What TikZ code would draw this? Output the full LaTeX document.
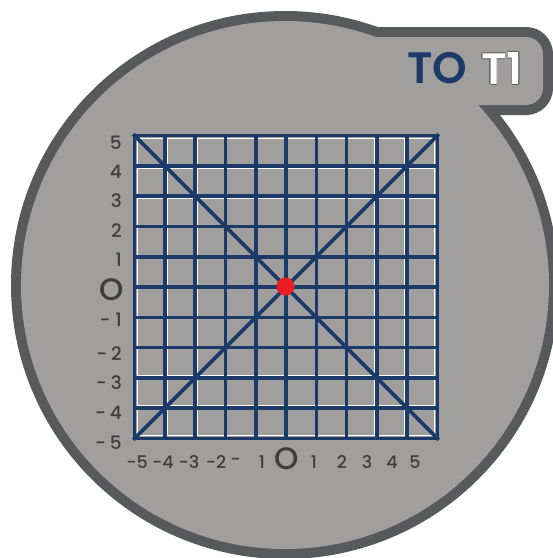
\documentclass[tikz,border=0pt]{standalone}
\usepackage{fontspec}
\setmainfont{Poppins Medium}
\newfontfamily\titlefont{Poppins SemiBold}
\usetikzlibrary{positioning}

\definecolor{rim}{HTML}{58595B}
\definecolor{face}{HTML}{A09F9D}
\definecolor{navy}{HTML}{1B3A68}
\definecolor{dotred}{HTML}{EC1C24}
\definecolor{ink}{HTML}{3E3E3E}

\tikzset{
  ylbl/.style={text=ink, inner sep=0pt, anchor=east, font=\fontsize{18.5}{18.5}\selectfont},
  xlbl/.style={text=ink, inner sep=0pt, font=\fontsize{17.5}{17.5}\selectfont},
  zerolbl/.style={text=ink, inner sep=0pt, font=\fontsize{31}{31}\selectfont},
  gridline/.style={navy, line width=3.6pt, line cap=rect},
  glint/.style={white, line width=1.6pt},
  titletxt/.style={inner sep=0pt, font=\titlefont\fontsize{44}{44}\selectfont},
}

\begin{document}
\begin{tikzpicture}[x=1pt, y=-1pt]
  \useasboundingbox (0,0) rectangle (553,558);
  % badge: circle with a tab at the top right
  \draw[rim, line width=20pt] (285,285) circle (264);
  \draw[rim, line width=20pt, rounded corners=17pt] (340,37) rectangle (543,105);
  \fill[face] (285,285) circle (264);
  \fill[face, rounded corners=17pt] (340,37) rectangle (543,105);

  % title
  \node[titletxt, text=navy] (tzero) at (437,68.5) {TO};
  \foreach \a in {0,45,...,315}
    \node[titletxt, text=rim, shift={(\a:0.6pt)}] at (502,68.5) {T1};
  \node[titletxt, text=white] (tone) at (502,68.5) {T1};

  % white grid, slightly smaller, behind the navy one
  \foreach \k in {-5,...,5} {
    \draw[glint] (286+\k*29.7,138.5) -- (286+\k*29.7,435.5);
    \draw[glint] (137.5,287+\k*29.7) -- (434.5,287+\k*29.7);
  }
  % navy grid
  \foreach \k in {-5,...,5} {
    \draw[gridline] (286+\k*30.3,135.5) -- (286+\k*30.3,438.5);
    \draw[gridline] (134.5,287+\k*30.3) -- (437.5,287+\k*30.3);
  }
  \coordinate (nw) at (134.5,135.5);
  \coordinate (ne) at (437.5,135.5);
  \coordinate (sw) at (134.5,438.5);
  \coordinate (se) at (437.5,438.5);
  \draw[gridline] (nw) -- (se);
  \draw[gridline] (sw) -- (ne);
  \node[circle, fill=dotred, minimum size=18pt, inner sep=0pt] (origin) at (285.5,286.5) {};

  % y labels
  \foreach \t/\y [count=\i] in {5/143, 4/172, 3/201, 2/231, 1/260,
      {-\hspace{5pt}1}/320, {-\hspace{4pt}2}/354, {-\hspace{4pt}3}/383,
      {-\hspace{4pt}4}/413, {-\hspace{4pt}5}/443}
    \node[ylbl] (y\i) at (122,\y) {\t};
  \node[zerolbl, anchor=east] (yzero) at (124,290) {O};

  % x labels
  \foreach \t/\x [count=\i] in {-5/137, -4/163, -3/189, -2/216, -/235.5, 1/262,
      1/314, 2/342, 3/367, 4/392, 5/415}
    \node[xlbl] (x\i) at (\x,462) {\t};
  \node[zerolbl] (xzero) at (287,459) {O};
\end{tikzpicture}
\end{document}
